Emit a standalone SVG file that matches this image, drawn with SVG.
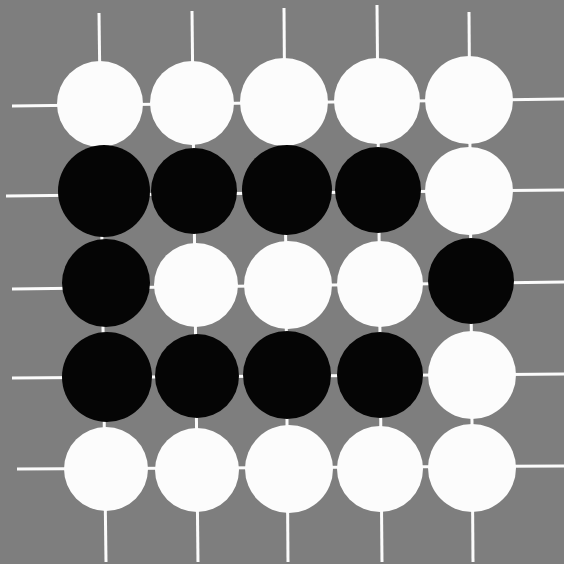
<svg xmlns="http://www.w3.org/2000/svg" width="564" height="564" viewBox="0 0 564 564">
<style>
.ln{stroke:#fbfbfb;stroke-width:3;fill:none}
.w{fill:#fcfcfc}
.b{fill:#050505}
</style>
<rect width="564" height="564" fill="#7e7e7e"/>
<g id="grid">
<line class="ln" x1="12" y1="106" x2="564" y2="99"/>
<line class="ln" x1="6" y1="196" x2="564" y2="190"/>
<line class="ln" x1="12" y1="289" x2="564" y2="282"/>
<line class="ln" x1="12" y1="378" x2="564" y2="374"/>
<line class="ln" x1="17" y1="469" x2="564" y2="466"/>
<line class="ln" x1="99" y1="13" x2="106" y2="562"/>
<line class="ln" x1="192" y1="11" x2="198" y2="562"/>
<line class="ln" x1="284" y1="8" x2="288" y2="562"/>
<line class="ln" x1="377" y1="5" x2="382" y2="562"/>
<line class="ln" x1="469" y1="12" x2="473" y2="562"/>
</g>
<g id="r1c1"><circle class="w" cx="100" cy="104" r="43"/></g>
<g id="r1c2"><circle class="w" cx="192" cy="103" r="42"/></g>
<g id="r1c3"><circle class="w" cx="284" cy="102" r="44"/></g>
<g id="r1c4"><circle class="w" cx="377" cy="101" r="43"/></g>
<g id="r1c5"><circle class="w" cx="469" cy="100" r="44"/></g>
<g id="r2c1"><circle class="b" cx="104" cy="191" r="46"/></g>
<g id="r2c2"><circle class="b" cx="194" cy="191" r="43"/></g>
<g id="r2c3"><circle class="b" cx="287" cy="190" r="45"/></g>
<g id="r2c4"><circle class="b" cx="378" cy="190" r="43"/></g>
<g id="r2c5"><circle class="w" cx="469" cy="191" r="44"/></g>
<g id="r3c1"><circle class="b" cx="106" cy="283" r="44"/></g>
<g id="r3c2"><circle class="w" cx="196" cy="285" r="42"/></g>
<g id="r3c3"><circle class="w" cx="288" cy="285" r="44"/></g>
<g id="r3c4"><circle class="w" cx="380" cy="284" r="43"/></g>
<g id="r3c5"><circle class="b" cx="471" cy="281" r="43"/></g>
<g id="r4c1"><circle class="b" cx="107" cy="377" r="45"/></g>
<g id="r4c2"><circle class="b" cx="197" cy="376" r="42"/></g>
<g id="r4c3"><circle class="b" cx="287" cy="375" r="44"/></g>
<g id="r4c4"><circle class="b" cx="380" cy="375" r="43"/></g>
<g id="r4c5"><circle class="w" cx="472" cy="375" r="44"/></g>
<g id="r5c1"><circle class="w" cx="106" cy="469" r="42"/></g>
<g id="r5c2"><circle class="w" cx="197" cy="470" r="42"/></g>
<g id="r5c3"><circle class="w" cx="289" cy="469" r="44"/></g>
<g id="r5c4"><circle class="w" cx="380" cy="469" r="43"/></g>
<g id="r5c5"><circle class="w" cx="472" cy="468" r="44"/></g>
</svg>
